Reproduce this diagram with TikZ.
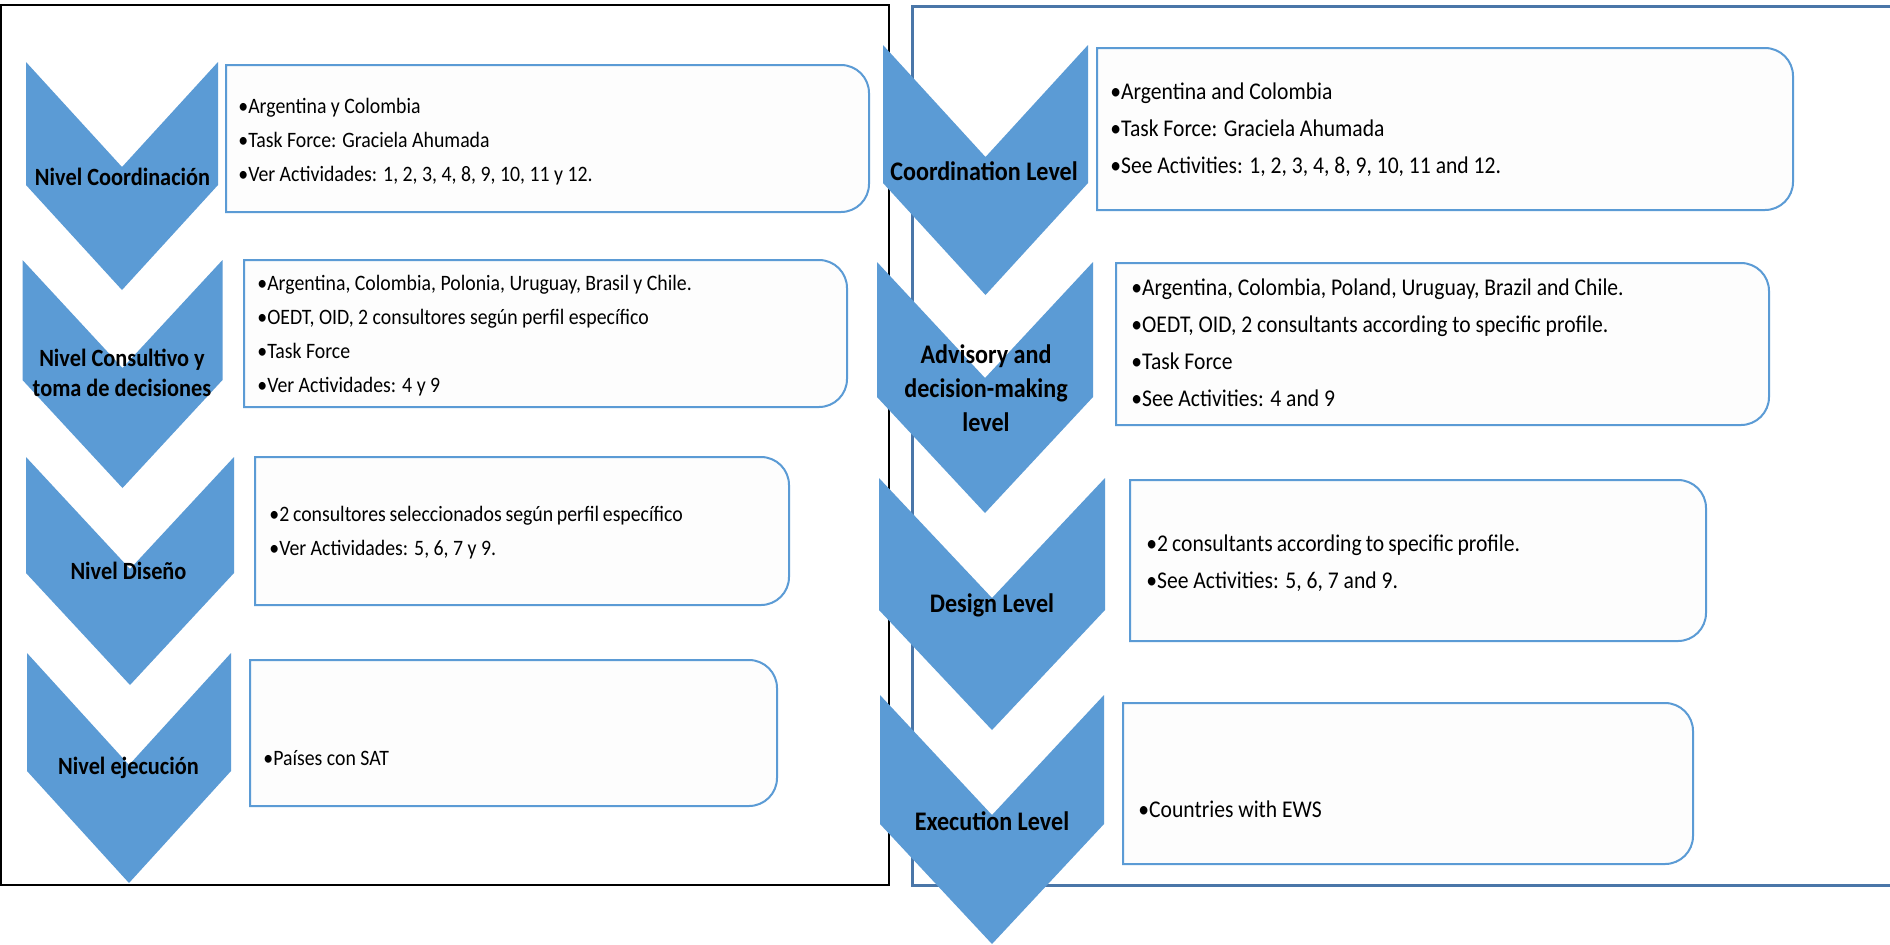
\documentclass[tikz,border=0pt]{standalone}
\usepackage{fontspec}
\setmainfont{Carlito}
\newfontfamily\bodyfont[FakeStretch=0.9]{Carlito}
\definecolor{chev}{HTML}{5B9BD5}
\definecolor{boxline}{HTML}{5B9BD5}
\definecolor{boxfill}{HTML}{FDFDFD}
\definecolor{panelblue}{HTML}{4A76A8}
\newcommand\tightsp{\spaceskip=0.17em\relax}
\tikzset{
  chevron/.style={fill=chev, draw=none},
  infobox/.style={draw=boxline, line width=1pt, fill=boxfill},
  lbody/.style={font=\bodyfont\fontsize{11}{17}\selectfont, align=left, inner sep=0pt, anchor=west},
  rbody/.style={font=\bodyfont\fontsize{12}{18.5}\selectfont, align=left, inner sep=0pt, anchor=west},
  llabel/.style={font=\bodyfont\bfseries\fontsize{12.4}{15}\selectfont, align=center, inner sep=0pt},
  rlabel/.style={font=\bodyfont\bfseries\fontsize{13.4}{17}\selectfont, align=center, inner sep=0pt},
}
% #1 centre x, #2 half width, #3 top, #4 tip, #5 depth
\newcommand\chevshape[5]{\fill[chevron] (#1-#2,#3) -- (#1,#3+#5) -- (#1+#2,#3) -- (#1+#2,#4-#5) -- (#1,#4) -- (#1-#2,#4-#5) -- cycle;}
% #1 x0, #2 y0, #3 x1, #4 y1
\newcommand\infob[4]{\draw[infobox] (#1,#2) [rounded corners=14pt] -- (#3,#2) -- (#3,#4) [sharp corners] -- (#1,#4) -- cycle;}
\begin{document}
\begin{tikzpicture}[x=0.5pt,y=-0.5pt]
\useasboundingbox (0,0) rectangle (1890,944);
\fill[white] (0,0) rectangle (1890,944);
% panels
\draw[black, line width=1pt] (1,5) rectangle (889,885);
\draw[panelblue, line width=1.5pt] (912,6) rectangle (1910,885);
% left chevrons
\chevshape{122}{96}{62}{290}{105}
\chevshape{122.5}{100}{260}{488}{108}
\chevshape{130}{104}{457}{685}{112}
\chevshape{129}{102}{653}{883}{112}
% right chevrons
\chevshape{985.5}{102.5}{45}{295}{112}
\chevshape{985}{108}{262}{513}{116}
\chevshape{992}{113}{478}{730}{120}
\chevshape{992}{112}{695}{944}{120}
% left boxes
\infob{226}{65}{869}{212}
\infob{244}{260}{847}{407}
\infob{255}{457}{789}{605}
\infob{250}{660}{777}{806}
% right boxes
\infob{1097}{48}{1793}{210}
\infob{1116}{263}{1769}{425}
\infob{1130}{480}{1706}{641}
\infob{1123}{703}{1693}{864}
% left labels
\node[llabel] (l1) at (122.5,177) {Nivel Coordinación};
\node[llabel] (l2) at (122,373) {Nivel Consultivo y\\toma de decisiones};
\node[llabel] (l3) at (128.5,571) {Nivel Diseño};
\node[llabel] (l4) at (128.5,768) {Nivel ejecución};
% right labels
\node[rlabel] (r1) at (984,171) {Coordination Level};
\node[rlabel] (r2) at (986,388) {Advisory and\\decision-making\\level};
\node[rlabel] (r3) at (992,605) {Design Level};
\node[rlabel] (r4) at (992,821) {Execution Level};
% left texts
\node[lbody] (tl1) at (238,142) {•Argentina y Colombia\\•Task Force: Graciela Ahumada\\•Ver Actividades: 1, 2, 3, 4, 8, 9, 10, 11 y 12.};
\node[lbody] (tl2) at (257,336) {•Argentina, Colombia, Polonia, Uruguay, Brasil y Chile.\\•OEDT, OID, 2 consultores según perfil específico\\•Task Force\\•Ver Actividades: 4 y 9};
\node[lbody] (tl3) at (269,533) {{\tightsp•2 consultores seleccionados según perfil específico}\\•Ver Actividades: 5, 6, 7 y 9.};
\node[lbody] (tl4) at (263,758) {•Países con SAT};
% right texts
\node[rbody] (tr1) at (1110,130) {•Argentina and Colombia\\•Task Force: Graciela Ahumada\\•See Activities: 1, 2, 3, 4, 8, 9, 10, 11 and 12.};
\node[rbody] (tr2) at (1131,343) {•Argentina, Colombia, Poland, Uruguay, Brazil and Chile.\\•OEDT, OID, 2 consultants according to specific profile.\\•Task Force\\•See Activities: 4 and 9};
\node[rbody] (tr3) at (1146,563) {{\tightsp•2 consultants according to specific profile.}\\•See Activities: 5, 6, 7 and 9.};
\node[rbody] (tr4) at (1138,809) {•Countries with EWS};
\end{tikzpicture}
\end{document}
